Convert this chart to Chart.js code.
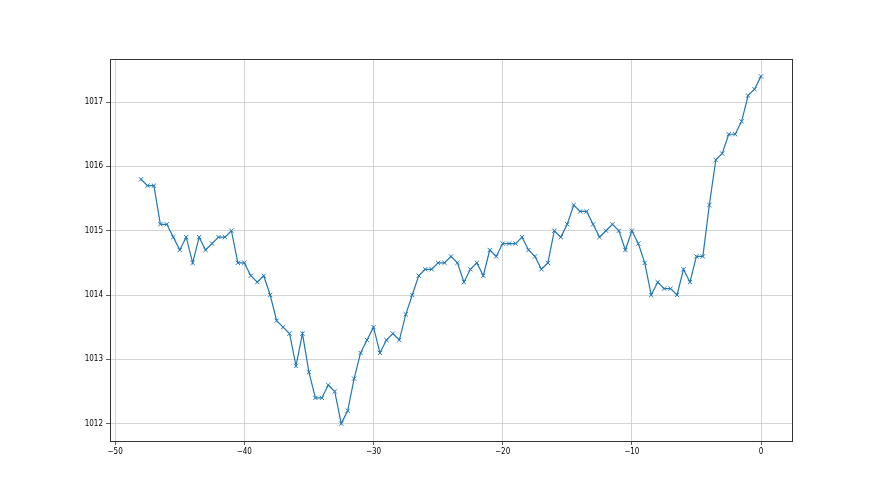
<!DOCTYPE html>
<html>
<head>
<meta charset="utf-8">
<script src="https://cdn.jsdelivr.net/npm/chart.js@4/dist/chart.umd.min.js"></script>
<style>
  html, body { margin: 0; padding: 0; background: #fff; }
  #wrap { width: 880px; height: 495px; }
</style>
</head>
<body>
<div id="wrap"><canvas id="chart" width="880" height="495"></canvas></div>
<script>
// hours relative to now, every half hour
const hours = []
for (let i = 0; i <= 96; i++) hours.push(-48 + i * 0.5)

// pressure readings (hPa)
const pressure = [
  1015.8, 1015.7, 1015.7, 1015.1, 1015.1, 1014.9, 1014.7, 1014.9, 1014.5, 1014.9,
  1014.7, 1014.8, 1014.9, 1014.9, 1015.0, 1014.5, 1014.5, 1014.3, 1014.2, 1014.3,
  1014.0, 1013.6, 1013.5, 1013.4, 1012.9, 1013.4, 1012.8, 1012.4, 1012.4, 1012.6,
  1012.5, 1012.0, 1012.2, 1012.7, 1013.1, 1013.3, 1013.5, 1013.1, 1013.3, 1013.4,
  1013.3, 1013.7, 1014.0, 1014.3, 1014.4, 1014.4, 1014.5, 1014.5, 1014.6, 1014.5,
  1014.2, 1014.4, 1014.5, 1014.3, 1014.7, 1014.6, 1014.8, 1014.8, 1014.8, 1014.9,
  1014.7, 1014.6, 1014.4, 1014.5, 1015.0, 1014.9, 1015.1, 1015.4, 1015.3, 1015.3,
  1015.1, 1014.9, 1015.0, 1015.1, 1015.0, 1014.7, 1015.0, 1014.8, 1014.5, 1014.0,
  1014.2, 1014.1, 1014.1, 1014.0, 1014.4, 1014.2, 1014.6, 1014.6, 1015.4, 1016.1,
  1016.2, 1016.5, 1016.5, 1016.7, 1017.1, 1017.2, 1017.4
]

const xTicks = [-50, -40, -30, -20, -10, 0]
const yTicks = [1012, 1013, 1014, 1015, 1016, 1017]

const FONT = { family: "'Liberation Sans Narrow', 'DejaVu Sans Condensed', 'DejaVu Sans', sans-serif", size: 8 }

// box around the plot area, like matplotlib spines
const frame = {
  id: "frame",
  afterDraw(chart) {
    const { ctx, chartArea: a } = chart
    ctx.save()
    ctx.strokeStyle = "#333"
    ctx.lineWidth = 1
    ctx.strokeRect(Math.round(a.left) + 0.5, Math.round(a.top) + 0.5,
      Math.round(a.right - a.left), Math.round(a.bottom - a.top))
    ctx.restore()
  }
}

const minus = v => String(v).replace("-", "\u2212")

new Chart(document.getElementById("chart"), {
  type: "line",
  data: {
    datasets: [{
      data: hours.map((h, i) => ({ x: h, y: pressure[i] })),
      borderColor: "#1f77b4",
      backgroundColor: "#1f77b4",
      borderWidth: 1.2,
      pointStyle: "crossRot",
      pointRadius: 3,
      pointBorderWidth: 1,
      tension: 0
    }]
  },
  options: {
    responsive: false,
    animation: false,
    events: [],
    layout: { padding: { top: 59, right: 88, left: 0, bottom: 0 } },
    plugins: { legend: { display: false }, tooltip: { enabled: false } },
    scales: {
      x: {
        type: "linear",
        min: -50.4,
        max: 2.4,
        afterBuildTicks: s => { s.ticks = xTicks.map(v => ({ value: v })) },
        afterFit: s => { s.height = 54 },
        ticks: { font: FONT, color: "#000", padding: 2, maxRotation: 0, callback: minus },
        grid: { color: "#c8c8c8", lineWidth: 0.8, tickColor: "#333", tickLength: 4 },
        border: { display: false }
      },
      y: {
        min: 1011.73,
        max: 1017.67,
        afterBuildTicks: s => { s.ticks = yTicks.map(v => ({ value: v })) },
        afterFit: s => { s.width = 110 },
        ticks: { font: FONT, color: "#000", padding: 3, callback: v => String(v) },
        grid: { color: "#c8c8c8", lineWidth: 0.8, tickColor: "#333", tickLength: 4 },
        border: { display: false }
      }
    }
  },
  plugins: [frame]
})
</script>
</body>
</html>
